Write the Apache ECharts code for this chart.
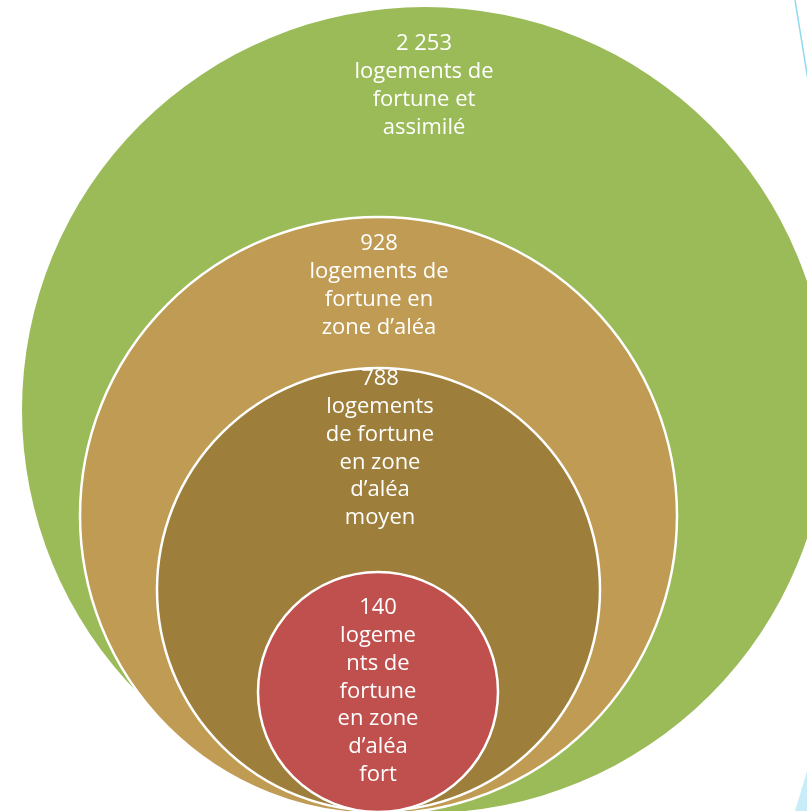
<!DOCTYPE html>
<html>
<head>
<meta charset="utf-8">
<script src="https://cdn.jsdelivr.net/npm/echarts@6/dist/echarts.min.js"></script>
<style>
html,body{margin:0;padding:0;background:#fff;}
#chart{width:807px;height:811px;}
</style>
</head>
<body>
<div id="chart"></div>
<script>
// Data
const categories = ['assimilé', 'zone d\u2019aléa', 'aléa moyen', 'aléa fort'];
const values = [2253, 928, 788, 140];
const valueLabels = ['2 253', '928', '788', '140'];
const descLines = [
  ['logements de', 'fortune et', 'assimilé'],
  ['logements de', 'fortune en', 'zone d\u2019aléa'],
  ['logements', 'de fortune', 'en zone', 'd\u2019aléa', 'moyen'],
  ['logeme', 'nts de', 'fortune', 'en zone', 'd\u2019aléa', 'fort']
];

// Layout & styles (not data)
const colors = ['#9BBB59', '#BF9B53', '#9E7E3B', '#C0504D'];
const layout = [
  {cx: 425, cy: 410, r: 403, textX: 424, textY: 44, border: 0},
  {cx: 378.5, cy: 515.5, r: 298.5, textX: 379, textY: 244, border: 2.5},
  {cx: 378.5, cy: 589.5, r: 221.5, textX: 380, textY: 379, border: 2.5},
  {cx: 378, cy: 692, r: 120, textX: 378, textY: 608, border: 2.5}
];
const lineH = 27.8;
const fontFamily = '"Open Sans", Lato, sans-serif';

const chart = echarts.init(document.getElementById('chart'), null, {renderer: 'canvas'});

const seriesData = values.map((v, i) => ({name: categories[i], value: v}));

chart.setOption({
  animation: false,
  series: [{
    type: 'custom',
    coordinateSystem: 'none',
    data: seriesData,
    renderItem: function (params, api) {
      const i = params.dataIndex;
      const L = layout[i];
      const lines = [valueLabels[i]].concat(descLines[i]);
      const children = [{
        type: 'circle',
        shape: {cx: L.cx, cy: L.cy, r: L.r},
        style: {fill: colors[i], stroke: L.border ? '#fff' : null, lineWidth: L.border}
      }];
      lines.forEach((t, k) => {
        children.push({
          type: 'text',
          z2: 10,
          style: {
            text: t, x: L.textX, y: L.textY + k * lineH,
            fill: '#fff', font: '22px ' + fontFamily,
            align: 'center', verticalAlign: 'middle'
          }
        });
      });
      return {type: 'group', children: children};
    }
  }],
  graphic: [
    {type: 'line', shape: {x1: 795, y1: 0, x2: 808, y2: 80}, style: {stroke: '#8ED8F0', lineWidth: 1.5}, z: 100},
    {type: 'polygon', shape: {points: [[808, 768], [808, 811], [795, 811]]}, style: {fill: '#C8ECF8'}, z: 100}
  ]
});
</script>
</body>
</html>
